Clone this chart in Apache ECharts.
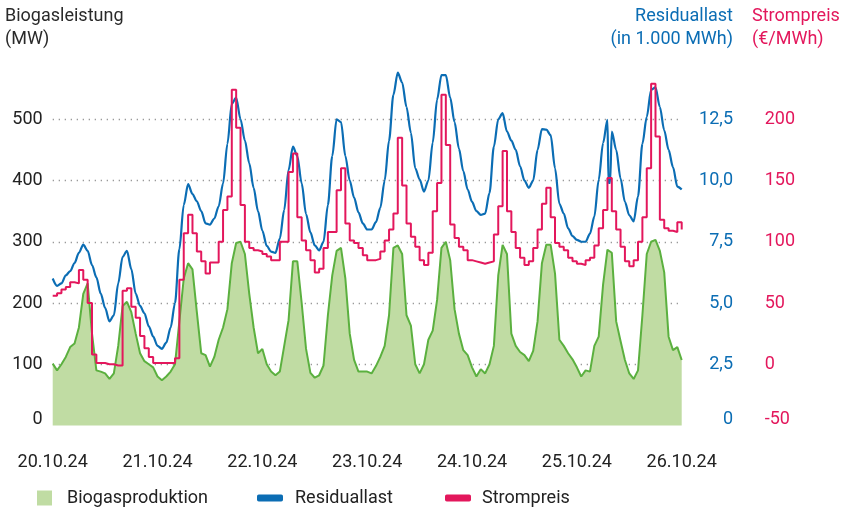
<!DOCTYPE html>
<html><head><meta charset="utf-8">
<script src="https://cdn.jsdelivr.net/npm/echarts@6/dist/echarts.min.js"></script>
<style>html,body{margin:0;padding:0;background:#fff}#c{width:844px;height:509px}</style>
</head><body><div id="c"></div>
<script>
// Day tick labels (one every 24 hours)
const dateLabels = ['20.10.24','21.10.24','22.10.24','23.10.24','24.10.24','25.10.24','26.10.24'];

// Biogasproduktion (MW), hourly from 20.10.24 00:00 to 26.10.24 00:00
const biogas = [101, 90, 100, 112, 128, 134, 160, 215, 232, 150,
 90, 88, 85, 76, 85, 130, 195, 202, 185, 150,
 118, 105, 100, 95, 80, 74, 80, 88, 100, 170,
 240, 265, 255, 185, 118, 115, 96, 112, 140, 160,
 190, 265, 298, 300, 280, 215, 160, 118, 125, 100,
 88, 82, 88, 130, 172, 268, 268, 200, 125, 86,
 78, 82, 98, 180, 245, 285, 290, 240, 150, 107,
 88, 88, 88, 85, 97, 112, 130, 180, 290, 294,
 280, 180, 163, 100, 85, 100, 140, 155, 205, 290,
 300, 270, 190, 150, 123, 115, 95, 80, 92, 85,
 100, 130, 245, 295, 280, 150, 130, 120, 115, 105,
 122, 170, 265, 295, 295, 248, 140, 130, 118, 108,
 95, 80, 90, 88, 130, 145, 230, 287, 282, 170,
 138, 107, 85, 76, 90, 180, 280, 300, 303, 285,
 250, 145, 123, 128, 107];

// Residuallast (in 1.000 MWh), hourly
const residuallast = [6.00, 5.70, 5.80, 6.13, 6.30, 6.63, 7.05, 7.38, 7.13, 6.55,
 6.05, 5.38, 4.80, 4.25, 4.50, 5.80, 6.88, 7.13, 6.38, 5.38,
 4.88, 4.58, 4.05, 3.63, 3.25, 3.13, 3.38, 4.00, 5.00, 7.20,
 9.00, 9.85, 9.45, 9.15, 8.75, 8.25, 8.20, 8.45, 8.95, 9.88,
 11.50, 13.13, 13.38, 12.50, 11.63, 10.70, 9.70, 8.75, 7.95, 7.33,
 7.10, 7.05, 7.63, 8.80, 10.43, 11.38, 11.00, 9.88, 8.63, 7.88,
 7.35, 7.15, 7.50, 9.00, 11.00, 12.50, 12.38, 11.00, 10.00, 9.30,
 8.70, 8.25, 8.00, 8.00, 8.30, 8.88, 10.00, 11.63, 13.50, 14.40,
 14.00, 13.00, 11.95, 10.50, 10.05, 9.55, 10.00, 11.55, 13.30, 14.30,
 14.30, 13.38, 12.38, 11.30, 10.38, 9.63, 9.13, 8.75, 8.60, 8.65,
 9.50, 11.38, 12.50, 12.75, 12.00, 11.63, 11.25, 10.58, 10.00, 9.70,
 10.00, 11.25, 12.10, 12.08, 11.85, 10.50, 9.05, 8.65, 8.05, 7.73,
 7.58, 7.50, 7.50, 7.83, 8.53, 10.03, 11.53, 12.48, 12.00, 11.25,
 10.08, 9.13, 8.58, 8.33, 9.35, 11.50, 12.60, 13.70, 13.80, 13.00,
 12.05, 11.25, 10.55, 9.75, 9.63];
// short dip of Residuallast on 25.10 (hour position, value)
const residualDip = [[127.25, 9.9], [127.6, 9.9]];

// Strompreis (EUR/MWh), hourly
const strompreis = [56, 58, 61, 63, 67, 66, 77, 69, 50, 8,
 1, 1, 0, 0, -1, -1, 60, 62, 47, 38,
 23, 13, 6, 1, 1, 1, 1, 1, 5, 69,
 107, 122, 107, 92, 84, 74, 83, 83, 100, 126,
 137, 224, 193, 130, 100, 95, 93, 92, 90, 88,
 85, 85, 100, 100, 157, 172, 120, 101, 93, 85,
 75, 78, 95, 108, 108, 142, 160, 115, 101, 99,
 95, 89, 85, 85, 86, 92, 101, 110, 123, 185,
 146, 115, 104, 96, 85, 81, 91, 125, 148, 220,
 179, 114, 103, 96, 93, 85, 84, 83, 82, 83,
 84, 106, 129, 174, 125, 108, 95, 87, 81, 84,
 95, 110, 131, 144, 120, 99, 96, 93, 87, 84,
 82, 81, 85, 87, 97, 111, 126, 152, 125, 110,
 96, 84, 80, 85, 100, 120, 160, 229, 186, 118,
 111, 109, 108, 116, 110];

const FONT = 'Roboto';
const C_GREEN_FILL = '#c0dca3';
const C_GREEN_LINE = '#5bb03f';
const C_BLUE = '#0b6db4';
const C_PINK = '#e3175c';
const C_TEXT = '#222';

const hourOf = (i) => i;
const biogasData = biogas.map((v, i) => [hourOf(i), v]);
const priceData = strompreis.map((v, i) => [hourOf(i), v]);
const residualData = residuallast.map((v, i) => [hourOf(i), v])
  .concat(residualDip).sort((a, b) => a[0] - b[0]);

const fmtDec = (v) => v.toFixed(1).replace('.', ',');
const liftRich = (color) => ({lift: {padding: [0, 0, 13, 0], fontSize: 18, color: color, fontFamily: FONT}});

const chart = echarts.init(document.getElementById('c'), null, {renderer: 'canvas'});
chart.setOption({
  animation: false,
  backgroundColor: '#fff',
  textStyle: {fontFamily: FONT},
  grid: {left: 52.7, right: 162.3, top: 58, bottom: 83.5, containLabel: false},
  xAxis: {
    type: 'value', min: 0, max: 144, interval: 24,
    axisLine: {show: false}, axisTick: {show: false}, splitLine: {show: false},
    axisLabel: {
      show: true, margin: 28, fontSize: 18, color: C_TEXT, fontFamily: FONT,
      showMinLabel: true, showMaxLabel: true,
      formatter: (v) => dateLabels[Math.round(v / 24)] || ''
    }
  },
  yAxis: [
    {
      type: 'value', position: 'left', min: 0, max: 600, interval: 100,
      axisLine: {show: false}, axisTick: {show: false},
      splitLine: {show: true, showMinLine: false, showMaxLine: false,
        lineStyle: {color: '#9a9a9a', width: 1.3, type: [1.3, 4.7]}},
      axisLabel: {margin: 10, fontSize: 18, color: C_TEXT, fontFamily: FONT,
        rich: liftRich(C_TEXT),
        formatter: (v) => v >= 600 ? '' : (v === 0 ? '{lift|0}' : String(v))}
    },
    {
      type: 'value', position: 'right', min: 0, max: 15, interval: 2.5,
      axisLine: {show: false}, axisTick: {show: false}, splitLine: {show: false},
      axisLabel: {margin: 51.3, align: 'right', fontSize: 18, color: C_BLUE, fontFamily: FONT,
        rich: liftRich(C_BLUE),
        formatter: (v) => v >= 15 ? '' : (v === 0 ? '{lift|0}' : fmtDec(v))}
    },
    {
      type: 'value', position: 'right', min: -50, max: 250, interval: 50,
      axisLine: {show: false}, axisTick: {show: false}, splitLine: {show: false},
      axisLabel: {margin: 83, align: 'left', fontSize: 18, color: C_PINK, fontFamily: FONT,
        rich: liftRich(C_PINK),
        formatter: (v) => v >= 250 ? '' : (v === -50 ? '{lift|-50}' : String(v))}
    }
  ],
  legend: [
    {data: [{name: 'Biogasproduktion', icon: 'rect', itemStyle: {color: C_GREEN_FILL, borderWidth: 0}}],
     left: 37, top: 489, padding: 0, itemWidth: 15, itemHeight: 15,
     textStyle: {fontSize: 18, color: C_TEXT, fontFamily: FONT, padding: [0, 0, 0, 10]}},
    {data: [{name: 'Residuallast', icon: 'roundRect', itemStyle: {color: C_BLUE, borderWidth: 0}}],
     left: 257, top: 489, padding: 0, itemWidth: 26, itemHeight: 7,
     textStyle: {fontSize: 18, color: C_TEXT, fontFamily: FONT, padding: [0, 0, 0, 7]}},
    {data: [{name: 'Strompreis', icon: 'roundRect', itemStyle: {color: C_PINK, borderWidth: 0}}],
     left: 445, top: 489, padding: 0, itemWidth: 26, itemHeight: 7,
     textStyle: {fontSize: 18, color: C_TEXT, fontFamily: FONT, padding: [0, 0, 0, 6]}}
  ],
  graphic: [
    {type: 'text', left: 5, top: 5, style: {text: 'Biogasleistung\n(MW)', fill: '#2a2a2a',
      font: '18px ' + FONT, lineHeight: 23}},
    {type: 'text', right: 111, top: 5, style: {text: 'Residuallast', fill: C_BLUE,
      font: '18px ' + FONT, lineHeight: 23}},
    {type: 'text', right: 111, top: 28, style: {text: '(in 1.000 MWh)', fill: C_BLUE,
      font: '18px ' + FONT, lineHeight: 23}},
    {type: 'text', left: 752, top: 5, style: {text: 'Strompreis\n(€/MWh)', fill: C_PINK,
      font: '18px ' + FONT, lineHeight: 23}}
  ],
  series: [
    {
      name: 'Biogasproduktion', type: 'line', yAxisIndex: 0, data: biogasData,
      showSymbol: false, smooth: false,
      lineStyle: {color: C_GREEN_LINE, width: 2},
      itemStyle: {color: C_GREEN_FILL},
      areaStyle: {color: C_GREEN_FILL, opacity: 1},
      z: 2
    },
    {
      name: 'Residuallast', type: 'line', yAxisIndex: 1, data: residualData,
      showSymbol: false, smooth: 0.3, smoothMonotone: 'x',
      lineStyle: {color: C_BLUE, width: 2.2},
      itemStyle: {color: C_BLUE},
      z: 3
    },
    {
      name: 'Strompreis', type: 'line', yAxisIndex: 2, data: priceData,
      showSymbol: false, step: 'end',
      lineStyle: {color: C_PINK, width: 2},
      itemStyle: {color: C_PINK},
      z: 4
    }
  ]
});
</script>
</body></html>
